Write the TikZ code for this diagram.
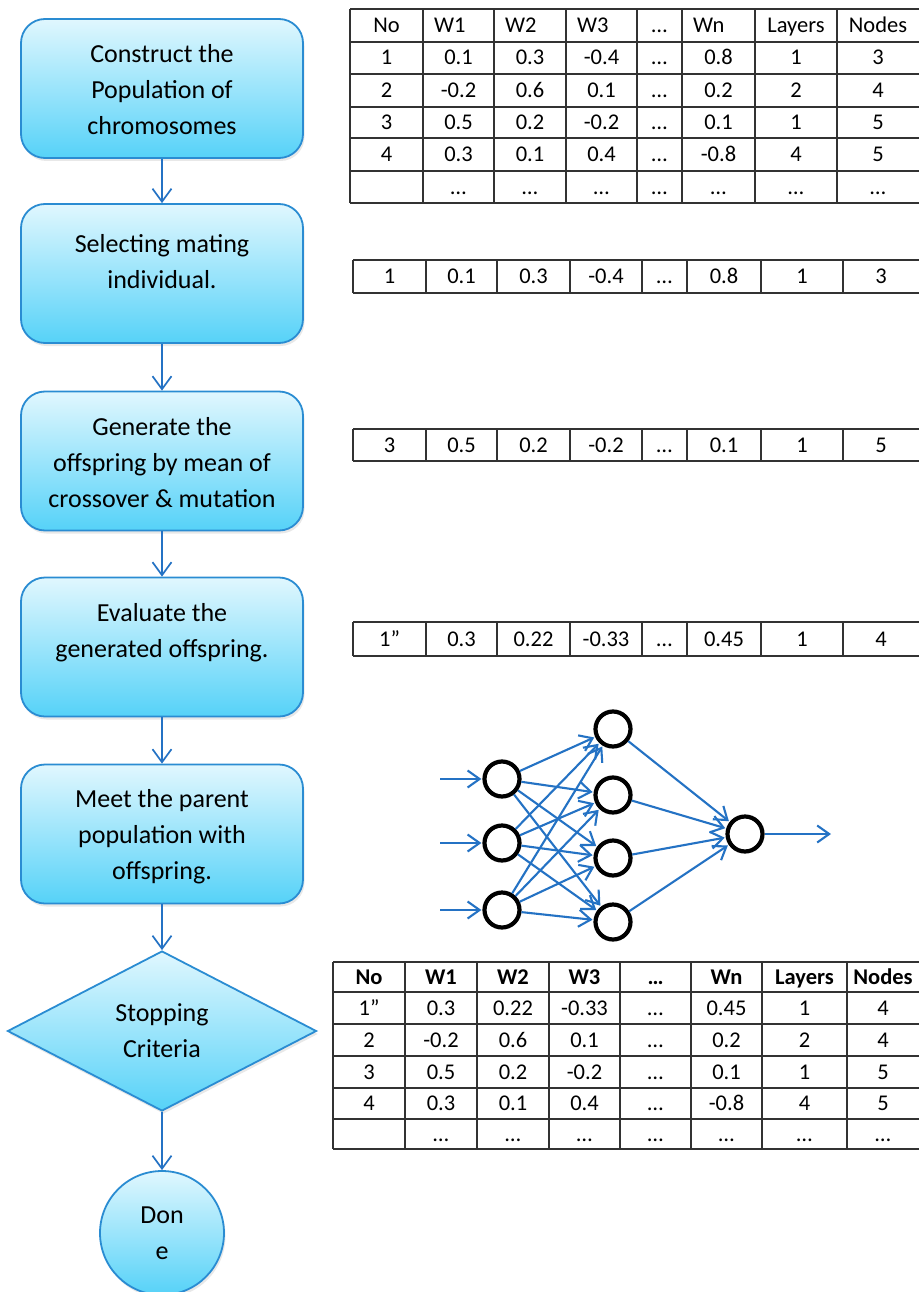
\documentclass[tikz,border=0pt]{standalone}
\usepackage{fontspec}
\setmainfont{Carlito}
\usetikzlibrary{arrows.meta,shapes.geometric,shadows}

\definecolor{flowblue}{RGB}{36,114,196}
\definecolor{edgeblue}{RGB}{42,140,210}
\definecolor{cyantop}{RGB}{224,247,254}
\definecolor{cyanbot}{RGB}{86,210,248}
\definecolor{gridgray}{RGB}{50,50,50}

\newcommand\boxfont{\fontsize{26}{36}\selectfont}
\newcommand\cellfont{\fontsize{22.5}{26}\selectfont}

\begin{document}
\begin{tikzpicture}[x=1pt,y=-1pt,
  softshadow/.style={drop shadow={opacity=0.18,shadow xshift=1.5pt,shadow yshift=-3pt}},
  fillbox/.style={draw=edgeblue,line width=1.8pt,top color=cyantop,bottom color=cyanbot,softshadow},
  stepbox/.style={fillbox,rectangle,rounded corners=24pt,minimum width=282pt,minimum height=139pt,inner sep=0pt},
  decision/.style={fillbox,diamond,minimum width=309pt,minimum height=160pt,inner sep=0pt,align=center,font=\boxfont},
  terminal/.style={fillbox,circle,minimum size=124pt,inner sep=0pt,align=center,font=\boxfont},
  boxtext/.style={align=center,font=\boxfont,inner sep=0pt},
  flowarrow/.style={draw=flowblue,line width=1.7pt,-{Straight Barb[length=13pt,width=19pt]}},
  grid/.style={draw=gridgray,line width=1.3pt},
  cell/.style={font=\cellfont,inner sep=0pt,text height=14pt,text depth=0pt},
  neuron/.style={circle,draw=black,line width=4.2pt,minimum size=35pt,inner sep=0pt},
  netarrow/.style={draw=flowblue,line width=2.1pt,shorten >=1pt,-{Straight Barb[length=12pt,width=17pt]}}
]

\useasboundingbox (0,0) rectangle (919,1292);
\fill[white] (0,0) rectangle (919,1292);

% ---------------- flow chart ----------------
\node[stepbox] (b1) at (162,88.5) {};
\node[stepbox] (b2) at (162,273.5) {};
\node[stepbox] (b3) at (162,461) {};
\node[stepbox] (b4) at (162,647) {};
\node[stepbox] (b5) at (162,834) {};
\node[decision] (stop) at (162,1031) {Stopping\\Criteria};
\node[terminal] (done) at (162,1233) {Don\\e};

\node[boxtext] (t1) at (162,90) {Construct the\\Population of\\chromosomes};
\node[boxtext] (t2) at (162,262) {Selecting mating\\individual.};
\node[boxtext] (t3) at (162,463) {Generate the\\offspring by mean of\\crossover \& mutation};
\node[boxtext] (t4) at (162,633) {Evaluate the\\generated offspring.};
\node[boxtext] (t5) at (162,837) {Meet the parent\\population with\\offspring.};

\draw[flowarrow] (b1.south) -- (b2.north);
\draw[flowarrow] (b2.south) -- (b3.north);
\draw[flowarrow] (b3.south) -- (b4.north);
\draw[flowarrow] (b4.south) -- (b5.north);
\draw[flowarrow] (b5.south) -- (stop.north);
\draw[flowarrow] (stop.south) -- (done.north);

% ---------------- population table ----------------
\def\topcx{{386.5,458.5,530,601.5,659.5,718.5,796,878}}
\foreach \x in {350,423,494,566,637,682,755,837} \draw[grid] (\x,9) -- (\x,203);
\foreach \y in {9,42,74,107,138,171,203} \draw[grid] (350,\y) -- (919,\y);
\node[cell] (ph1) at (386.5,25.5) {No};
\node[cell,anchor=west] (ph2) at (434,25.5) {W1};
\node[cell,anchor=west] (ph3) at (505,25.5) {W2};
\node[cell,anchor=west] (ph4) at (577,25.5) {W3};
\node[cell] (ph5) at (659.5,25.5) {…};
\node[cell,anchor=west] (ph6) at (693,25.5) {Wn};
\node[cell] (ph7) at (796,25.5) {Layers};
\node[cell] (ph8) at (878,25.5) {Nodes};
\foreach \r/\yc/\entries in {
    1/58/{1,0.1,0.3,-0.4,…,0.8,1,3},
    2/90.5/{2,-0.2,0.6,0.1,…,0.2,2,4},
    3/122.5/{3,0.5,0.2,-0.2,…,0.1,1,5},
    4/154.5/{4,0.3,0.1,0.4,…,-0.8,4,5},
    5/187/{,…,…,…,…,…,…,…}} {
  \foreach \t [count=\i] in \entries {
    \pgfmathsetmacro\cx{\topcx[\i-1]}
    \node[cell] (p\r-\i) at (\cx,\yc) {\t};
  }
}

% ---------------- single chromosome rows ----------------
\def\rowcx{{389.5,461.5,533.5,606,664.5,724,802,881}}
\foreach \r/\ya/\yb/\entries in {
    1/260/293/{1,0.1,0.3,-0.4,…,0.8,1,3},
    2/429/461/{3,0.5,0.2,-0.2,…,0.1,1,5},
    3/622/656/{1”,0.3,0.22,-0.33,…,0.45,1,4}} {
  \draw[grid] (353,\ya) -- (919,\ya);
  \draw[grid] (353,\yb) -- (919,\yb);
  \foreach \x in {353,426,497,570,642,687,761,843} \draw[grid] (\x,\ya) -- (\x,\yb);
  \pgfmathsetmacro\yc{(\ya+\yb)/2}
  \foreach \t [count=\i] in \entries {
    \pgfmathsetmacro\cx{\rowcx[\i-1]}
    \node[cell] (s\r-\i) at (\cx,\yc) {\t};
  }
}

% ---------------- neural network ----------------
\foreach \n/\y in {1/779,2/843,3/910} \node[neuron] (in\n) at (502,\y) {};
\foreach \n/\y in {1/729,2/795,3/858,4/922} \node[neuron] (hid\n) at (613,\y) {};
\node[neuron] (out) at (745,834) {};
\foreach \n/\y in {1/779,2/843,3/910} {
  \coordinate (src\n) at (440,\y);
  \draw[netarrow] (src\n) -- (in\n);
}
\foreach \i in {1,2,3} \foreach \j in {1,...,4} \draw[netarrow] (in\i) -- (hid\j);
\foreach \j in {1,...,4} \draw[netarrow] (hid\j) -- (out);
\coordinate (sink) at (832,834);
\draw[netarrow] (out) -- (sink);

% ---------------- updated population table ----------------
\def\botcx{{369,441,513,584.5,655.5,726.5,804.5,883}}
\foreach \x in {333,405,477,549,620,691,762,847} \draw[grid] (\x,962) -- (\x,1149);
\foreach \y in {962,992,1024,1056,1088,1119,1149} \draw[grid] (333,\y) -- (919,\y);
\foreach \t [count=\i] in {No,W1,W2,W3,…,Wn,Layers,Nodes} {
  \pgfmathsetmacro\cx{\botcx[\i-1]}
  \node[cell,font=\cellfont\bfseries] (uh\i) at (\cx,977) {\t};
}
\foreach \r/\yc/\entries in {
    1/1008/{1”,0.3,0.22,-0.33,…,0.45,1,4},
    2/1040/{2,-0.2,0.6,0.1,…,0.2,2,4},
    3/1072/{3,0.5,0.2,-0.2,…,0.1,1,5},
    4/1103.5/{4,0.3,0.1,0.4,…,-0.8,4,5},
    5/1134/{,…,…,…,…,…,…,…}} {
  \foreach \t [count=\i] in \entries {
    \pgfmathsetmacro\cx{\botcx[\i-1]}
    \node[cell] (u\r-\i) at (\cx,\yc) {\t};
  }
}
\end{tikzpicture}
\end{document}
